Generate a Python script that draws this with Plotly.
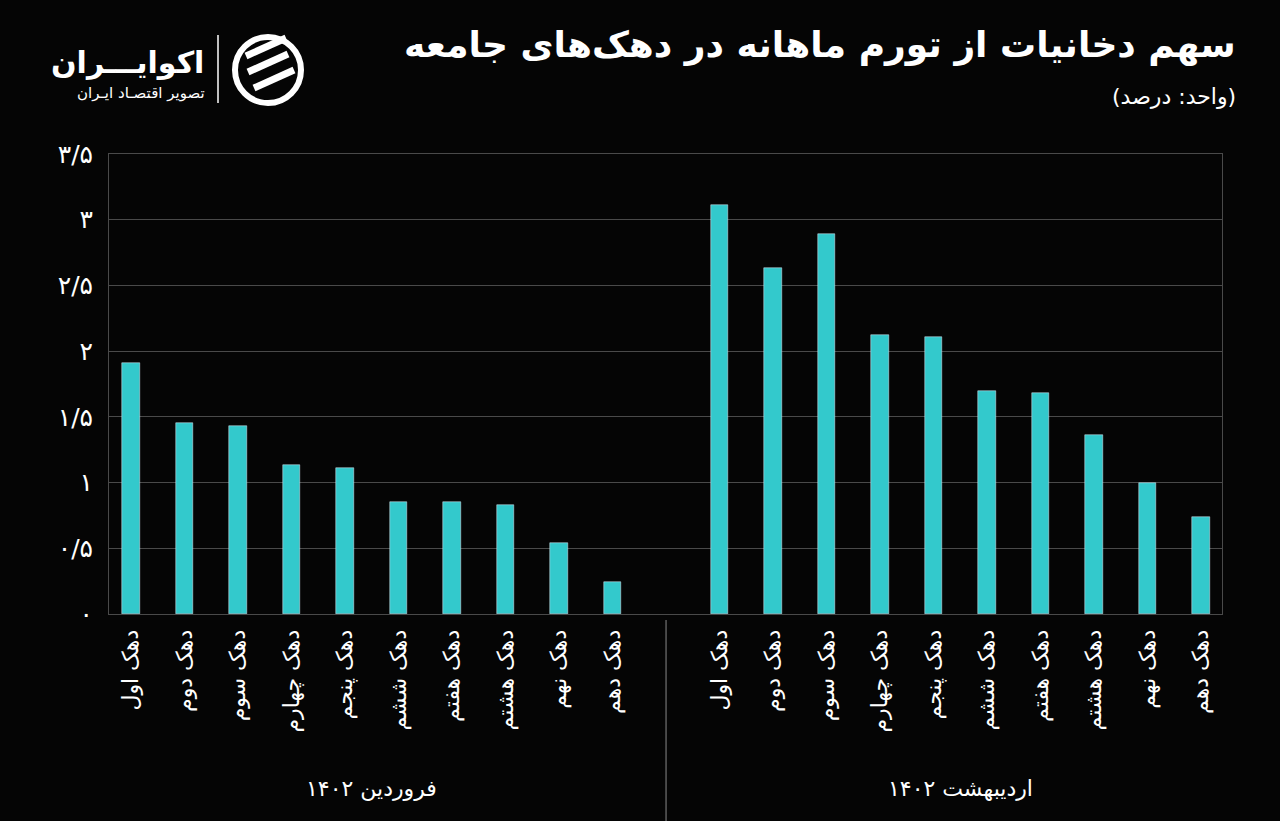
import plotly.graph_objects as go

# داده‌ها
deciles = ["دهک اول", "دهک دوم", "دهک سوم", "دهک چهارم", "دهک پنجم",
           "دهک ششم", "دهک هفتم", "دهک هشتم", "دهک نهم", "دهک دهم"]
months = ["فروردین ۱۴۰۲", "اردیبهشت ۱۴۰۲"]
farvardin = [1.91, 1.45, 1.43, 1.13, 1.11, 0.85, 0.85, 0.83, 0.54, 0.24]
ordibehesht = [3.11, 2.63, 2.89, 2.12, 2.11, 1.70, 1.68, 1.36, 1.00, 0.74]
y_ticks = [0, 0.5, 1, 1.5, 2, 2.5, 3, 3.5]
y_labels = ["۰", "۰/۵", "۱", "۱/۵", "۲", "۲/۵", "۳", "۳/۵"]

title = "سهم دخانیات از تورم ماهانه در دهک‌های جامعه"
unit = "(واحد: درصد)"

FONT = "DejaVu Sans, Noto Sans, sans-serif"
BAR = "#33c9cc"
GRID = "#4a4a4a"

W, H = 1280, 821
L, R, T, B = 109, 58, 154, 207
PW, PH = W - L - R, H - T - B


def px(x):
    return (x - L) / PW


def py(y):
    return 1 + (T - y) / PH


# هر ماه یک گروه ده‌تایی، با یک جای خالی بینشان
x1 = list(range(len(deciles)))
x2 = [i + len(deciles) + 1 for i in range(len(deciles))]

fig = go.Figure()
fig.add_trace(go.Bar(x=x1, y=farvardin, marker_color=BAR, width=0.33,
                     name=months[0], showlegend=False))
fig.add_trace(go.Bar(x=x2, y=ordibehesht, marker_color=BAR, width=0.33,
                     name=months[1], showlegend=False))

fig.update_layout(
    width=W, height=H,
    paper_bgcolor="#050505", plot_bgcolor="#050505",
    margin=dict(l=L, r=R, t=T, b=B),
    font=dict(family=FONT, color="white"),
    bargap=0,
)
fig.update_xaxes(
    range=[-0.41, 20.39],
    tickmode="array", tickvals=x1 + x2, ticktext=deciles + deciles,
    tickangle=-90, tickfont=dict(size=22, color="white"),
    showgrid=False, zeroline=False,
    showline=True, linecolor=GRID, linewidth=1, mirror=True,
    ticks="", ticklabelstandoff=6,
)
fig.update_yaxes(
    range=[0, 3.5],
    tickmode="array", tickvals=y_ticks, ticktext=y_labels,
    tickfont=dict(size=25, color="white"),
    showgrid=True, gridcolor=GRID, gridwidth=1, zeroline=False,
    showline=True, linecolor=GRID, linewidth=1, mirror=True,
    ticks="", ticklabelstandoff=10,
)

# جداکننده گروه‌ها
fig.add_shape(type="line", xref="x", yref="paper", x0=10, x1=10, y0=py(620), y1=py(821),
              line=dict(color="#8a8a8a", width=1))

# برچسب ماه‌ها
for xc, m in zip([4.5, 15.5], months):
    fig.add_annotation(x=xc, y=py(788), xref="x", yref="paper", text=m,
                       showarrow=False, font=dict(size=22, color="white"), yanchor="middle")

# عنوان
fig.add_annotation(x=px(1238), y=py(45), xref="paper", yref="paper", text="<b>" + title + "</b>",
                   showarrow=False, font=dict(size=36, color="white"),
                   xanchor="right", yanchor="middle")
fig.add_annotation(x=px(1238), y=py(97), xref="paper", yref="paper", text=unit,
                   showarrow=False, font=dict(size=22, color="white"),
                   xanchor="right", yanchor="middle")

# لوگو
fig.add_annotation(x=px(206), y=py(62), xref="paper", yref="paper",
                   text="<b>اکوایـــران</b>", showarrow=False,
                   font=dict(size=30, color="white"), xanchor="right", yanchor="middle")
fig.add_annotation(x=px(207), y=py(93), xref="paper", yref="paper",
                   text="تصویر اقتصـاد ایـران", showarrow=False,
                   font=dict(size=15, color="white"), xanchor="right", yanchor="middle")
fig.add_shape(type="line", xref="paper", yref="paper",
              x0=px(218), x1=px(218), y0=py(35), y1=py(103),
              line=dict(color="white", width=1.5))
# نشان دایره‌ای
cx, cy, r = 268, 70, 33
fig.add_shape(type="circle", xref="paper", yref="paper",
              x0=px(cx - r), x1=px(cx + r), y0=py(cy + r), y1=py(cy - r),
              line=dict(color="white", width=6))
for dx, dy in [(-22, -14), (-20, 2), (-14, 18)]:
    fig.add_shape(type="line", xref="paper", yref="paper",
                  x0=px(cx + dx), x1=px(cx + dx + 40),
                  y0=py(cy + dy), y1=py(cy + dy - 18),
                  line=dict(color="white", width=7))

fig.write_html("out.html", config={"displayModeBar": False},
               post_script="document.body.style.margin='0';document.body.style.background='#050505';")
